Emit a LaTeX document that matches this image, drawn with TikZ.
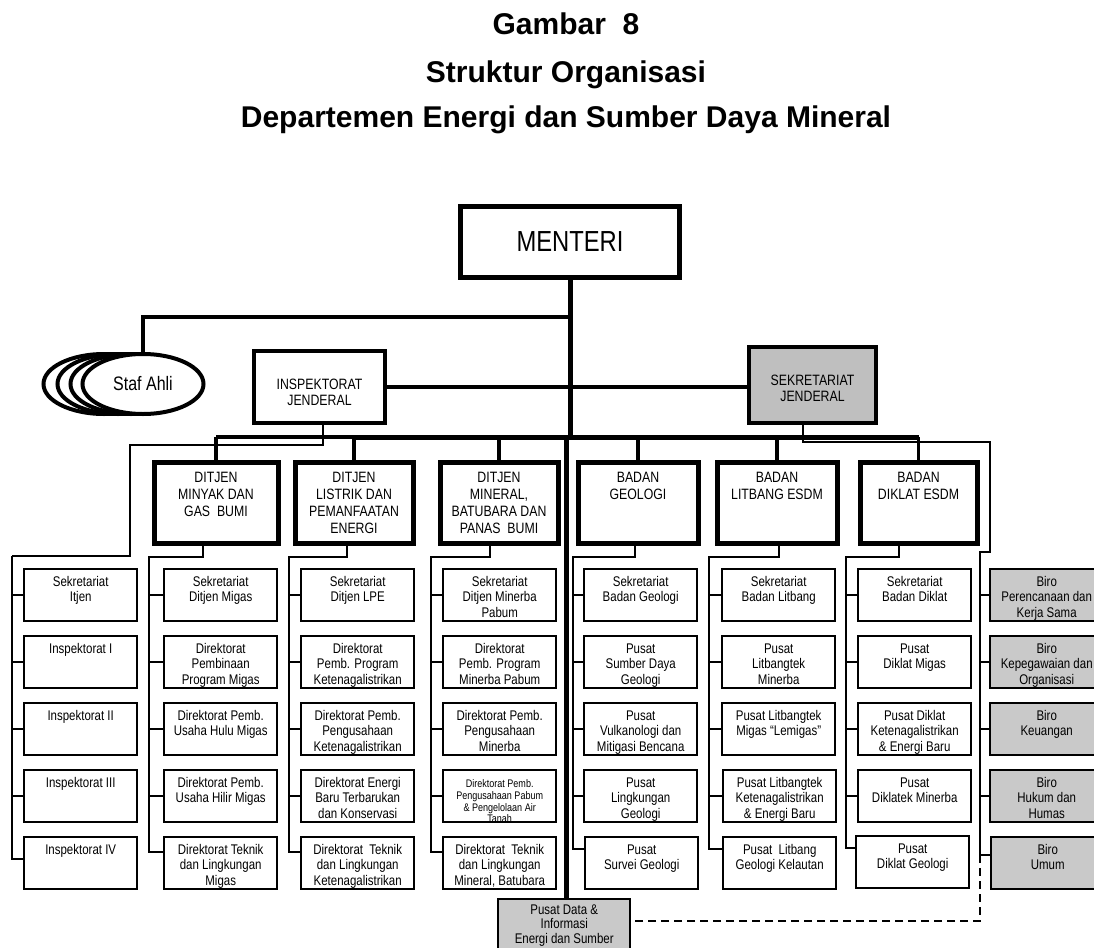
\documentclass[tikz,border=0pt]{standalone}
\usepackage{fontspec}
\setmainfont{Liberation Sans}
\newfontfamily\nar{Liberation Sans}[FakeStretch=0.82]
\usetikzlibrary{shapes.geometric}
\tikzset{
 lthick/.style={line width=5pt},
 lmed/.style={line width=3.5pt},
 lthin/.style={line width=2.2pt},
 lhair/.style={line width=1.4pt},
 lsek/.style={line width=2pt},
 ldash/.style={line width=2pt, dash pattern=on 8pt off 5pt},
 topbox/.style={draw, line width=5pt, fill=white, inner sep=0pt},
 midbox/.style={draw, line width=4pt, inner sep=0pt, anchor=north west},
 l2box/.style={draw, line width=5pt, fill=white, inner sep=0pt, anchor=north west},
 cbox/.style={draw, line width=2.4pt, fill=white, inner sep=0pt, anchor=north west},
 gbox/.style={cbox, fill=black!21},
 staf/.style={ellipse, draw, line width=4pt, fill=white, minimum width=121pt, minimum height=60pt, inner sep=0pt},
 ttl/.style={font=\fontsize{30}{34}\selectfont\bfseries, anchor=base},
}
\newcommand\cbx[1]{\parbox[c][52pt][t]{113pt}{\centering\nar\fontsize{14}{15.5}\selectfont\rule{0pt}{17pt}#1}}
\newcommand\lbx[2]{\parbox[c][81pt][t]{#1}{\centering\nar\fontsize{15}{17}\selectfont\rule{0pt}{20pt}#2}}
\newcommand\cnode[4]{\node[cbox] (#1) at (#2,#3) {\cbx{#4}};}
\newcommand\gnode[4]{\node[gbox] (#1) at (#2,#3) {\cbx{#4}};}
\begin{document}
\begin{tikzpicture}[x=1pt,y=-1pt]
\useasboundingbox (0,0) rectangle (1094,947);
\clip (0,0) rectangle (1094,947);
\fill[white] (0,0) rectangle (1094,947);

% titles
\node[ttl] (t1) at (566,35) {Gambar\ \ 8};
\node[ttl] (t2) at (566,83) {Struktur Organisasi};
\node[ttl] (t3) at (566,128) {Departemen Energi dan Sumber Daya Mineral};

% top level
\node[topbox, minimum width=219pt, minimum height=71pt, font=\nar\fontsize{29}{32}\selectfont] (menteri) at (570,242) {MENTERI};
\node[midbox, fill=white] (insp) at (252,349) {\parbox[c][72pt][t]{131pt}{\centering\nar\fontsize{15}{16}\selectfont\rule{0pt}{38.5pt}INSPEKTORAT\\JENDERAL}};
\node[midbox, fill=black!25] (sekjen) at (747,345) {\parbox[c][76pt][t]{127pt}{\centering\nar\fontsize{15}{16}\selectfont\rule{0pt}{38.5pt}SEKRETARIAT\\JENDERAL}};

\node[staf] (sa1) at (104,384) {};
\node[staf] (sa2) at (118,384) {};
\node[staf] (sa3) at (131,384) {};
\node[staf, font=\nar\fontsize{19.5}{22}\selectfont] (sa4) at (143,384) {Staf Ahli};

% level 2
\node[l2box] (dmig) at (151.5,459.5) {\lbx{124pt}{DITJEN\\MINYAK DAN\\GAS\ \ BUMI}};
\node[l2box] (dlpe) at (292.5,459.5) {\lbx{118pt}{DITJEN\\LISTRIK DAN\\PEMANFAATAN\\ENERGI}};
\node[l2box] (dmnb) at (437.5,459.5) {\lbx{118pt}{DITJEN\\MINERAL,\\BATUBARA DAN\\PANAS\ \ BUMI}};
\node[l2box] (bgeo) at (575.5,459.5) {\lbx{120pt}{BADAN\\GEOLOGI}};
\node[l2box] (bltb) at (714.5,459.5) {\lbx{120pt}{BADAN\\LITBANG ESDM}};
\node[l2box] (bdkl) at (857.5,459.5) {\lbx{117pt}{BADAN\\DIKLAT ESDM}};

% column 0: Itjen
\cnode{itj1}{23}{568}{Sekretariat\\Itjen}
\cnode{itj2}{23}{635}{Inspektorat I}
\cnode{itj3}{23}{702}{Inspektorat II}
\cnode{itj4}{23}{769}{Inspektorat III}
\cnode{itj5}{23}{836}{Inspektorat IV}
% column 1: Migas
\cnode{mig1}{163}{568}{Sekretariat\\Ditjen Migas}
\cnode{mig2}{163}{635}{Direktorat\\Pembinaan\\Program Migas}
\cnode{mig3}{163}{702}{Direktorat Pemb.\\Usaha Hulu Migas}
\cnode{mig4}{163}{769}{Direktorat Pemb.\\Usaha Hilir Migas}
\cnode{mig5}{163}{836}{Direktorat Teknik\\dan Lingkungan\\Migas}
% column 2: LPE
\cnode{lpe1}{300}{568}{Sekretariat\\Ditjen LPE}
\cnode{lpe2}{300}{635}{Direktorat\\Pemb. Program\\Ketenagalistrikan}
\cnode{lpe3}{300}{702}{Direktorat Pemb.\\Pengusahaan\\Ketenagalistrikan}
\cnode{lpe4}{300}{769}{Direktorat Energi\\Baru Terbarukan\\dan Konservasi}
\cnode{lpe5}{300}{836}{Direktorat\ \ Teknik\\dan Lingkungan\\Ketenagalistrikan}
% column 3: Minerba
\cnode{mnb1}{442}{568}{Sekretariat\\Ditjen Minerba\\Pabum}
\cnode{mnb2}{442}{635}{Direktorat\\Pemb. Program\\Minerba Pabum}
\cnode{mnb3}{442}{702}{Direktorat Pemb.\\Pengusahaan\\Minerba}
\node[cbox, minimum width=113pt, minimum height=52pt, path picture={\node[anchor=north, inner sep=0pt] (mnb4t) at (path picture bounding box.north) {\parbox{113pt}{\centering\nar\fontsize{11}{11.7}\selectfont\rule{0pt}{16pt}Direktorat Pemb.\\Pengusahaan Pabum\\\& Pengelolaan Air\\Tanah}};}] (mnb4) at (442,769) {};
\cnode{mnb5}{442}{836}{Direktorat\ \ Teknik\\dan Lingkungan\\Mineral, Batubara}
% column 4: Geologi
\cnode{geo1}{583}{568}{Sekretariat\\Badan Geologi}
\cnode{geo2}{583}{635}{Pusat\\Sumber Daya\\Geologi}
\cnode{geo3}{583}{702}{Pusat\\Vulkanologi dan\\Mitigasi Bencana}
\cnode{geo4}{583}{769}{Pusat\\Lingkungan\\Geologi}
\cnode{geo5}{584}{836}{Pusat\\Survei Geologi}
% column 5: Litbang
\cnode{ltb1}{721}{568}{Sekretariat\\Badan Litbang}
\cnode{ltb2}{721}{635}{Pusat\\Litbangtek\\Minerba}
\cnode{ltb3}{721}{702}{Pusat Litbangtek\\Migas “Lemigas”}
\cnode{ltb4}{722}{769}{Pusat Litbangtek\\Ketenagalistrikan\\\& Energi Baru}
\cnode{ltb5}{722}{836}{Pusat\ \ Litbang\\Geologi Kelautan}
% column 6: Diklat
\cnode{dkl1}{857}{568}{Sekretariat\\Badan Diklat}
\cnode{dkl2}{857}{635}{Pusat\\Diklat Migas}
\cnode{dkl3}{857}{702}{Pusat Diklat\\Ketenagalistrikan\\\& Energi Baru}
\cnode{dkl4}{857}{769}{Pusat\\Diklatek Minerba}
\cnode{dkl5}{855}{835}{Pusat\\Diklat Geologi}
% column 7: Biro
\gnode{bir1}{989}{568}{Biro\\Perencanaan dan\\Kerja Sama}
\gnode{bir2}{989}{635}{Biro\\Kepegawaian dan\\Organisasi}
\gnode{bir3}{989}{702}{Biro\\Keuangan}
\gnode{bir4}{989}{769}{Biro\\Hukum dan\\Humas}
\gnode{bir5}{990}{836}{Biro\\Umum}

% Pusat Data
\node[gbox] (pd) at (497,898) {\parbox[c][60pt][t]{132pt}{\centering\nar\fontsize{14}{14.5}\selectfont\rule{0pt}{15pt}Pusat Data \&\\Informasi\\Energi dan Sumber}};

% connectors
\coordinate (bus) at (570,437);
\coordinate (sj) at (570,317);
\coordinate (lt) at (566,437);
\draw[lthick] (menteri.south) -- (bus);
\draw[lmed] (sj) -| (sa4.north);
\draw[lmed] (insp.east) -- (insp.east -| sekjen.west);
\draw[lmed] (dmig.north |- bus) -- (dlpe.north |- bus);
\draw[lthick] (dlpe.north |- bus) -- (bdkl.north |- bus);
\foreach \n in {dmig,dlpe,dmnb,bgeo,bltb,bdkl} \draw[lmed] (\n.north |- bus) -- (\n.north);
\draw[lthick] (lt) -- (lt |- pd.north);

% Itjen tree
\coordinate (ij1) at (323,445);
\coordinate (ij2) at (130,445);
\coordinate (ij3) at (130,556);
\coordinate (sp0t) at (12,556);
\coordinate (sp0b) at (12,859);
\draw[lhair] (ij1 |- insp.south) -- (ij1) -- (ij2) -- (ij3) -- (sp0t);
\draw[lthin] (sp0t) -- (sp0b) -- (sp0b -| itj5.west);
\foreach \k in {1,...,4} \draw[lthin] (itj\k.west -| sp0t) -- (itj\k.west);

% columns 1-6
\foreach \pp/\ch/\bx/\sx/\ey in {dmig/mig/203/149/852, dlpe/lpe/347/289/852, dmnb/mnb/490/431/852, bgeo/geo/635/573/849, bltb/ltb/779/709/849, bdkl/dkl/899/846/848}{
  \coordinate (bj) at (\bx,557);
  \coordinate (st) at (\sx,557);
  \coordinate (sb) at (\sx,\ey);
  \draw[lthin] (bj |- \pp.south) -- (bj) -- (st) -- (sb) -- (sb -| \ch5.west);
  \foreach \k in {1,...,4} \draw[lthin] (\ch\k.west -| st) -- (\ch\k.west);
}

% Biro tree
\coordinate (bj7a) at (803,442);
\coordinate (bj7b) at (990,442);
\coordinate (bj7c) at (990,552);
\coordinate (sp7t) at (980,552);
\coordinate (sp7b) at (980,855);
\coordinate (dsh) at (980,921);
\draw[lsek] (bj7a |- sekjen.south) -- (bj7a) -- (bj7b) -- (bj7c) -- (sp7t) -- (sp7b) -- (sp7b -| bir5.west);
\foreach \k in {1,...,4} \draw[lthin] (bir\k.west -| sp7t) -- (bir\k.west);
\draw[ldash] (sp7b) -- (dsh) -- (dsh -| pd.east);
\end{tikzpicture}
\end{document}
